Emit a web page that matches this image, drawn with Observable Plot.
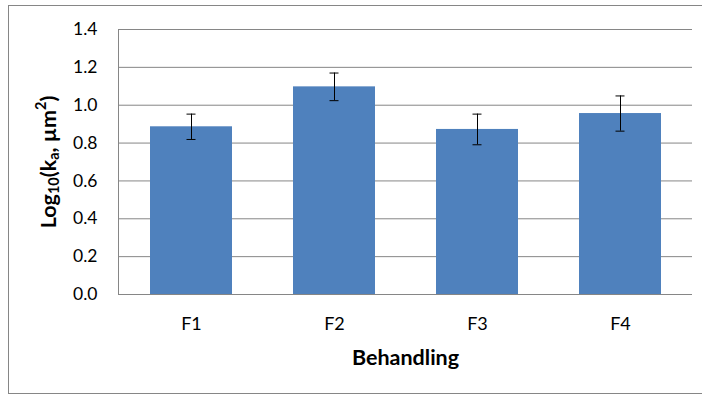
<!DOCTYPE html>
<html>
<head>
<meta charset="utf-8">
<script src="https://cdn.jsdelivr.net/npm/d3@7"></script>
<script src="https://cdn.jsdelivr.net/npm/@observablehq/plot@0.6"></script>
<style>
  html, body { margin: 0; padding: 0; background: #fff; }
  #chart { position: relative; width: 702px; height: 396px; overflow: hidden; }
  #border { position: absolute; left: 8px; top: 5px; width: 720px; height: 389px; border: 1px solid #868686; box-sizing: border-box; }
  #chart svg { position: absolute; left: 0; top: 0; }
</style>
</head>
<body>
<div id="chart"><div id="border"></div></div>
<script>
// Treatments and measured log10 permeability (mean ± error)
const categories = ["F1", "F2", "F3", "F4"];
const means = [0.886, 1.097, 0.872, 0.956];
const errors = [0.067, 0.073, 0.081, 0.093];
const yTicks = [0, 0.2, 0.4, 0.6, 0.8, 1.0, 1.2, 1.4];
const xTitle = "Behandling";

const data = categories.map((c, i) => ({
  cat: c,
  mean: means[i],
  lo: means[i] - errors[i],
  hi: means[i] + errors[i]
}));

const font = "Lato, 'Open Sans', sans-serif";
const gridColor = "#868686";

const chart = Plot.plot({
  width: 702,
  height: 396,
  marginLeft: 118,
  marginRight: 10,
  marginTop: 29,
  marginBottom: 102,
  style: { fontFamily: font, fontSize: "17px", color: "#000", background: "transparent" },
  x: { domain: categories, paddingInner: 0.43, paddingOuter: 0.215, label: null },
  y: { domain: [0, 1.4], label: null },
  marks: [
    Plot.gridY(yTicks, { stroke: gridColor, strokeOpacity: 1 }),
    Plot.frame({ anchor: "left", stroke: gridColor }),
    Plot.barY(data, { x: "cat", y: "mean", fill: "#4f81bd" }),
    Plot.ruleY([0], { stroke: gridColor }),
    Plot.ruleX(data, { x: "cat", y1: "lo", y2: "hi", stroke: "#000" }),
    Plot.tickY(data, { x: "cat", y: "lo", stroke: "#000", inset: 36.5 }),
    Plot.tickY(data, { x: "cat", y: "hi", stroke: "#000", inset: 36.5 }),
    Plot.axisY(yTicks, { tickSize: 0, tickPadding: 21, tickFormat: d3.format(".1f"), label: null, fontSize: 17.5 }),
    Plot.axisX({ tickSize: 0, tickPadding: 23, label: null, fontSize: 18 }),
    Plot.text([xTitle], { frameAnchor: "bottom", dy: 64, text: d => d, fontWeight: "bold", fontSize: 21.5, lineAnchor: "middle" })
  ]
});

document.getElementById("chart").appendChild(chart);

// Rotated y-axis title with subscripts and superscript
const svg = d3.select(chart);
const yTitle = svg.append("text")
  .attr("transform", "translate(50,162) rotate(-90)")
  .attr("text-anchor", "middle")
  .attr("dominant-baseline", "middle")
  .attr("font-family", font)
  .attr("font-weight", "bold")
  .attr("font-size", 21.5)
  .attr("fill", "#000");
yTitle.append("tspan").text("Log");
yTitle.append("tspan").attr("font-size", 14.5).attr("dy", 5).text("10");
yTitle.append("tspan").attr("dy", -5).text("(k");
yTitle.append("tspan").attr("font-size", 14.5).attr("dy", 5).text("a");
yTitle.append("tspan").attr("dy", -5).text(", µm");
yTitle.append("tspan").attr("font-size", 14.5).attr("dy", -8).text("2");
yTitle.append("tspan").attr("dy", 8).text(")");
</script>
</body>
</html>
